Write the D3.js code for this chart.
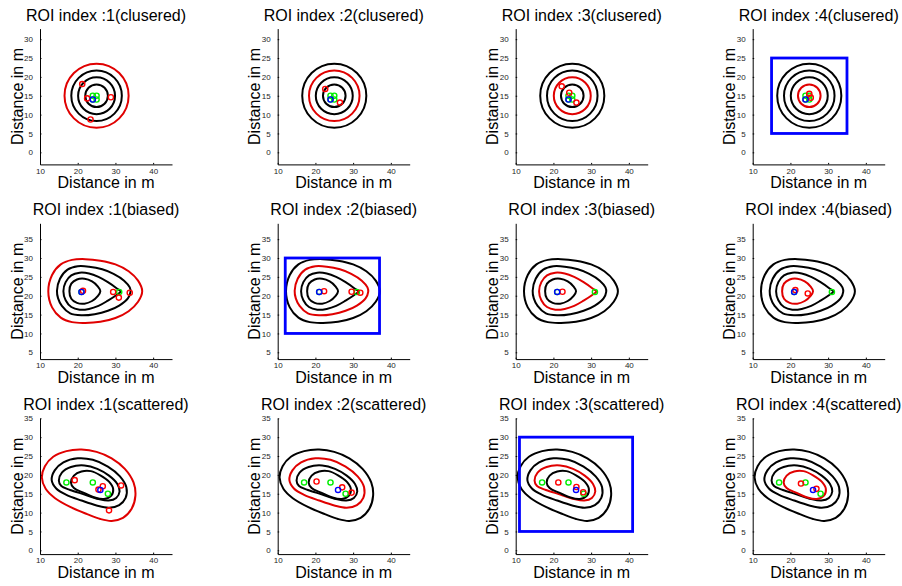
<!DOCTYPE html>
<html>
<head>
<meta charset="utf-8">
<script src="https://cdn.jsdelivr.net/npm/d3@7"></script>
<style>
  body { margin: 0; background: #fff; }
  text { font-family: Arial, "Liberation Sans", sans-serif; }
</style>
</head>
<body>
<div id="chart"></div>
<script>
// Scenario names (the typo "clusered" is in the original)
const rowNames = ['clusered', 'biased', 'scattered'];
const roiIndex = [1, 2, 3, 4];

// Axis limits / ticks per row
const xDomain = [10, 45];
const xTicks = [10, 20, 30, 40];
const yDomains = [[-3.2, 32.8], [3.2, 39.2], [-1, 35]];
const yTicks = [
  [0, 5, 10, 15, 20, 25, 30],
  [5, 10, 15, 20, 25, 30, 35],
  [0, 5, 10, 15, 20, 25, 30, 35]
];

// Clustered: concentric contours (centre + radius of each level, outer -> inner)
const clusteredCentre = [25, 15];
const clusteredRadii = [8.5, 6.7, 4.9, 3.0];

// Biased: contour outlines, outer -> inner
const biasedContours = [
  [[12.2,21.2],[13.2,25.5],[15.5,28.3],[18.5,29.5],[22,29.7],[26,29.3],[30,28.3],[33.5,26.5],[36,24],[37.1,21.2],
   [36,18.4],[33.5,15.9],[30,14.1],[26,13.1],[22,12.8],[18.5,13.0],[15.5,14.2],[13.2,16.9]],
  [[14.5,21.3],[15.3,24.5],[17.3,26.9],[20,27.8],[23,27.7],[26.5,27.0],[29.5,25.8],[32.3,24.0],[33.8,22.2],[34,21.0],
   [33.3,19.3],[31,17.4],[28,16],[24.5,15.1],[21,14.8],[18,15.3],[15.8,17.3],[14.8,19.3]],
  [[16.2,21.2],[16.8,23.6],[18.3,25.4],[20.5,26.1],[23,25.9],[25.5,25.0],[28,23.6],[30.3,22.0],[31.4,21.1],
   [30.3,20.2],[28,18.7],[25.5,17.3],[23,16.5],[20.5,16.3],[18.3,17.0],[16.8,18.8]],
  [[17.8,21.2],[18.3,23.2],[19.8,24.3],[21.8,24.5],[23.8,23.8],[25.3,22.5],[26.0,21.2],
   [25.3,19.9],[23.8,18.6],[21.8,17.9],[19.8,18.1],[18.3,19.2]]
];

// Scattered: contour outlines, outer -> inner
const scatteredContours = [
  [[10.5,19.3],[11.3,22.3],[13.5,24.8],[17,26.3],[21,26.7],[25,26.1],[29,24.4],[32.5,21.6],[34.8,18],[35.3,14.5],
   [34.3,11],[32,8.6],[29,7.8],[26,8.3],[22.5,9.6],[18,11.5],[14,13.8],[11.5,16.3]],
  [[13.1,18.6],[13.9,21.2],[16.2,23.3],[20,24.4],[24,24.0],[28,22.2],[31.2,19.6],[32.9,16.7],[32.7,13.9],
   [31,12.0],[28.3,11.3],[25,11.9],[21,13.2],[17,14.7],[14.3,16.4]],
  [[15,18.5],[15.8,20.6],[18.2,22.1],[21.8,22.5],[25.2,21.6],[28.3,19.8],[30.5,17.6],[31.1,15.6],[30.2,13.9],
   [28.2,13.2],[25.5,13.6],[21.8,14.8],[18,16.0],[15.6,17.1]],
  [[18.2,18],[19,19.8],[21,20.9],[23.5,21],[26,19.9],[28.3,18.2],[29.4,16.3],[28.9,14.5],[27,13.6],
   [24.5,14],[21.5,15.3],[19,16.5]]
];

// Reference (green) and true (blue) positions per row
const greenPoints = [
  [[24, 15], [25, 15], [24, 14], [25, 14]],
  [[21, 21], [31, 21]],
  [[17, 18], [24, 18], [28, 15]]
];
const bluePoints = [[24, 14], [21, 21], [26, 16]];

// Red estimates per row, per ROI index
const redPoints = [
  [
    [[21.2,18.1],[22.5,14.3],[28.8,14.6],[23.4,8.7]],
    [[22.6,16.8],[26.5,13.2]],
    [[22.2,17.5],[24.2,15.8],[26.1,13.2]],
    [[25,15.5],[25.4,14.5]]
  ],
  [
    [[21.4,21.3],[29.4,21.0],[30.9,19.5],[33.8,20.8]],
    [[22.3,21.2],[29.6,21.05],[31.9,20.8]],
    [[22.4,21.05]],
    [[21.3,21.5],[24.6,20.6]]
  ],
  [
    [[19.2,18.6],[26.65,17.0],[25.5,16.1],[31.5,17.2],[28.3,10.6]],
    [[20.3,18.25],[27.1,16.7],[29.6,15.3]],
    [[21.3,18.0],[26.1,16.8],[27.9,15.4]],
    [[22.8,17.7],[26.9,16.3]]
  ]
];

// Region boxes [x0, x1, y0, y1] (only one per row)
const boxes = [
  [null, null, null, [15, 35, 5, 25]],
  [null, [12, 37, 10, 30], null, null],
  [null, null, [11, 41, 5, 30], null]
];

// Layout
const width = 902, height = 586;
const colLeft = [40, 277.7, 515.7, 752.7];
const rowTop = [28.6, 223.3, 418.3];
const axW = 132, axH = 135.8;

const svg = d3.select('#chart').append('svg')
  .attr('width', width)
  .attr('height', height);

const line = d3.line().curve(d3.curveCatmullRomClosed.alpha(0.5));

rowNames.forEach((name, r) => {
  roiIndex.forEach((roi, c) => {
    const g = svg.append('g')
      .attr('transform', `translate(${colLeft[c]},${rowTop[r]})`);

    const x = d3.scaleLinear().domain(xDomain).range([0, axW]);
    const y = d3.scaleLinear().domain(yDomains[r]).range([axH, 0]);

    // Contours
    const redLevel = c; // ROI index k highlights the k-th level from outside
    if (r === 0) {
      g.selectAll('circle.contour')
        .data(clusteredRadii)
        .enter().append('circle')
        .attr('class', 'contour')
        .attr('cx', x(clusteredCentre[0]))
        .attr('cy', y(clusteredCentre[1]))
        .attr('r', d => x(xDomain[0] + d) - x(xDomain[0]))
        .attr('fill', 'none')
        .attr('stroke', (d, i) => i === redLevel ? '#e00000' : '#000')
        .attr('stroke-width', 2);
    } else {
      const shapes = r === 1 ? biasedContours : scatteredContours;
      g.selectAll('path.contour')
        .data(shapes)
        .enter().append('path')
        .attr('class', 'contour')
        .attr('d', d => line(d.map(p => [x(p[0]), y(p[1])])))
        .attr('fill', 'none')
        .attr('stroke', (d, i) => i === redLevel ? '#e00000' : '#000')
        .attr('stroke-width', 2);
    }

    // Box
    const b = boxes[r][c];
    if (b) {
      g.append('rect')
        .attr('x', x(b[0]))
        .attr('y', y(b[3]))
        .attr('width', x(b[1]) - x(b[0]))
        .attr('height', y(b[2]) - y(b[3]))
        .attr('fill', 'none')
        .attr('stroke', '#0000ff')
        .attr('stroke-width', 2.8);
    }

    // Markers
    const marker = (pts, color) => g.append('g')
      .selectAll('circle')
      .data(pts)
      .enter().append('circle')
      .attr('cx', d => x(d[0]))
      .attr('cy', d => y(d[1]))
      .attr('r', 2.6)
      .attr('fill', 'none')
      .attr('stroke', color)
      .attr('stroke-width', 1.4);

    marker(greenPoints[r], '#00ee00');
    marker(redPoints[r][c], '#ff0000');
    marker([bluePoints[r]], '#0000ff');

    // Axes
    const xAxis = g.append('g')
      .attr('transform', `translate(0,${axH})`)
      .call(d3.axisBottom(x).tickValues(xTicks).tickSizeInner(-1.5).tickSizeOuter(0).tickPadding(3.5));
    const yAxis = g.append('g')
      .call(d3.axisLeft(y).tickValues(yTicks[r]).tickSizeInner(-1.5).tickSizeOuter(0).tickPadding(7));

    [xAxis, yAxis].forEach(a => {
      a.select('.domain').attr('stroke', '#000').attr('stroke-width', 1);
      a.selectAll('.tick line').attr('stroke', '#000');
      a.selectAll('.tick text')
        .attr('font-size', 8)
        .attr('font-family', 'Arial, "Liberation Sans", sans-serif')
        .attr('fill', '#262626');
    });

    // Title and labels
    g.append('text')
      .attr('x', axW / 2)
      .attr('y', -8)
      .attr('text-anchor', 'middle')
      .attr('font-size', 16)
      .text(`ROI index :${roi}(${name})`);

    g.append('text')
      .attr('x', axW / 2)
      .attr('y', axH + 24)
      .attr('text-anchor', 'middle')
      .attr('font-size', 16)
      .text('Distance in m');

    g.append('text')
      .attr('transform', `translate(-17.5,${axH / 2}) rotate(-90)`)
      .attr('text-anchor', 'middle')
      .attr('font-size', 16)
      .text('Distance in m');
  });
});
</script>
</body>
</html>
